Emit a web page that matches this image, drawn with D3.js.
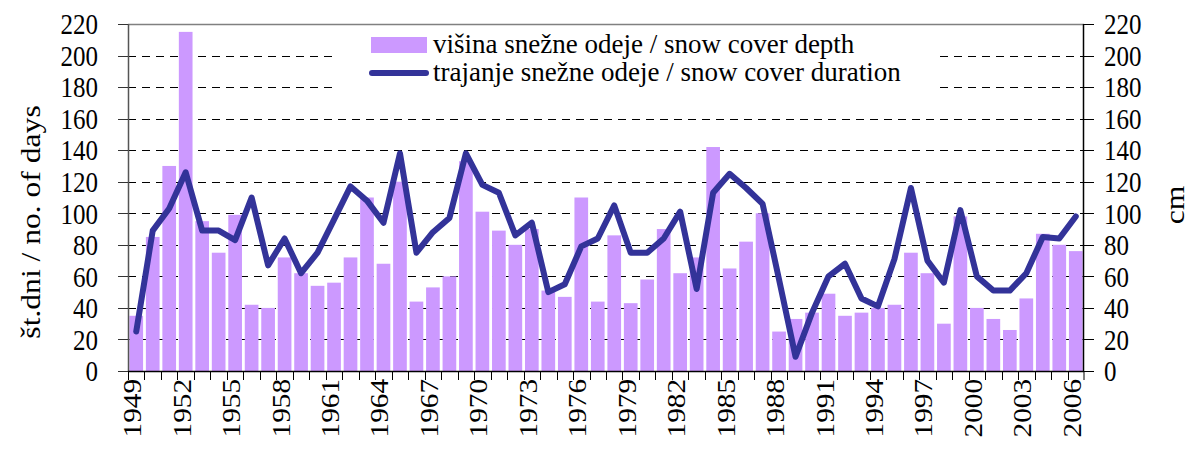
<!DOCTYPE html>
<html>
<head>
<meta charset="utf-8">
<script src="https://cdn.jsdelivr.net/npm/d3@7"></script>
<style>
  html, body { margin: 0; padding: 0; background: #fff; }
  svg { display: block; }
  text { font-family: "Liberation Serif", "Times New Roman", "DejaVu Serif", serif; fill: #000; }
</style>
</head>
<body>
<svg id="chart" width="1192" height="450"></svg>
<script>
// Snow cover, 1949–2006
const years = d3.range(1949, 2007).map(String);

// snow cover depth, cm (bars, right axis)
const depth = [35, 85, 130, 215, 95, 75, 99, 42, 40, 72,
               62, 54, 56, 72, 110, 68, 120, 44, 53, 60,
               133, 101, 89, 80, 90, 51, 47, 110, 44, 86,
               43, 58, 90, 62, 72, 142, 65, 82, 100, 25,
               33, 37, 49, 35, 37, 40, 42, 75, 62, 30,
               98, 40, 33, 26, 46, 87, 80, 76];

// snow cover duration, days (line, left axis)
const duration = [25, 89, 103, 126, 89, 89, 83, 110, 67, 84,
                  62, 75, 96, 117, 108, 94, 138, 75, 88, 97,
                  138, 118, 113, 86, 94, 50, 55, 79, 84, 105,
                  75, 75, 84, 101, 52, 113, 125, 116, 106, 58,
                  9, 37, 60, 68, 46, 41, 71, 116, 70, 56,
                  102, 60, 51, 51, 62, 85, 84, 98];

const yTicks = d3.range(0, 221, 20);
const xLabelYears = years.filter((y, i) => i % 3 === 0);

const legendLabels = ["višina snežne odeje / snow cover depth",
                      "trajanje snežne odeje / snow cover duration"];
const leftTitle = "št.dni / no. of days";
const rightTitle = "cm";

const barColor = "#CC99FF";
const lineColor = "#333399";
const stretch = 1.17; // vertical text stretch

const svg = d3.select("#chart");
const m = { left: 128, right: 1084, top: 24, bottom: 371 };

const x = d3.scaleBand().domain(years).range([m.left, m.right])
  .paddingInner(0.17).paddingOuter(0.085);
const step = x.step();
const yL = d3.scaleLinear().domain([0, 220]).range([m.bottom, m.top]);
const yR = d3.scaleLinear().domain([0, 220]).range([m.bottom, m.top]);
const cx = d => x(d) + x.bandwidth() / 2;
const edge = d => x(d) - step * 0.17 / 2;

// dashed gridlines
svg.append("g").selectAll("line").data(yTicks.filter(t => t > 0 && t < 220)).join("line")
  .attr("x1", m.left).attr("x2", m.right)
  .attr("y1", d => Math.round(yL(d)) + 0.5).attr("y2", d => Math.round(yL(d)) + 0.5)
  .attr("stroke", "#000").attr("stroke-width", 1).attr("stroke-dasharray", "8,6");

// legend background masks gridlines
svg.append("rect").attr("x", 335).attr("y", 30).attr("width", 600).attr("height", 66).attr("fill", "#fff");

// plot border top
svg.append("line").attr("x1", m.left).attr("x2", m.right).attr("y1", m.top + 0.5).attr("y2", m.top + 0.5)
  .attr("stroke", "#808080").attr("stroke-width", 1.5);

// bars
svg.append("g").selectAll("rect").data(years).join("rect")
  .attr("x", d => x(d)).attr("width", x.bandwidth())
  .attr("y", (d, i) => yR(depth[i])).attr("height", (d, i) => yR(0) - yR(depth[i]))
  .attr("fill", barColor);

// duration line
const line = d3.line().x((d, i) => cx(years[i])).y(d => yL(d));
svg.append("path").datum(duration).attr("d", line)
  .attr("fill", "none").attr("stroke", lineColor).attr("stroke-width", 6)
  .attr("stroke-linejoin", "round").attr("stroke-linecap", "round");

// left axis
const gL = svg.append("g");
gL.append("line").attr("x1", m.left + 0.5).attr("x2", m.left + 0.5).attr("y1", m.top).attr("y2", m.bottom)
  .attr("stroke", "#555").attr("stroke-width", 1.5);
gL.selectAll(".t").data(yTicks).join("line")
  .attr("x1", m.left - 10).attr("x2", m.left)
  .attr("y1", d => Math.round(yL(d)) + 0.5).attr("y2", d => Math.round(yL(d)) + 0.5)
  .attr("stroke", "#333").attr("stroke-width", 1);
gL.selectAll("text").data(yTicks).join("text")
  .attr("transform", d => `translate(98,${yL(d)}) scale(1,${stretch})`)
  .attr("dy", "0.35em").attr("text-anchor", "end")
  .style("font-size", "25px").text(d => d);

// right axis
const gR = svg.append("g");
gR.append("line").attr("x1", m.right - 0.5).attr("x2", m.right - 0.5).attr("y1", m.top).attr("y2", m.bottom)
  .attr("stroke", "#000").attr("stroke-width", 1.5);
gR.selectAll(".t").data(yTicks).join("line")
  .attr("x1", m.right).attr("x2", m.right + 10)
  .attr("y1", d => Math.round(yR(d)) + 0.5).attr("y2", d => Math.round(yR(d)) + 0.5)
  .attr("stroke", "#000").attr("stroke-width", 1);
gR.selectAll("text").data(yTicks).join("text")
  .attr("transform", d => `translate(1104,${yR(d)}) scale(1,${stretch})`)
  .attr("dy", "0.35em").attr("text-anchor", "start")
  .style("font-size", "25px").text(d => d);

// bottom axis
const gB = svg.append("g");
gB.append("line").attr("x1", m.left).attr("x2", m.right).attr("y1", m.bottom + 0.5).attr("y2", m.bottom + 0.5)
  .attr("stroke", "#000").attr("stroke-width", 1.5);
gB.selectAll(".t").data(years.concat(["end"])).join("line")
  .attr("x1", d => d === "end" ? m.right : Math.round(edge(d)) + 0.5)
  .attr("x2", d => d === "end" ? m.right : Math.round(edge(d)) + 0.5)
  .attr("y1", m.bottom).attr("y2", m.bottom + 9)
  .attr("stroke", "#000").attr("stroke-width", 1);
gB.selectAll("text").data(xLabelYears).join("text")
  .attr("transform", d => `translate(${cx(d)},379) scale(1,${stretch}) rotate(-90)`)
  .attr("dy", "0.2em").attr("text-anchor", "end")
  .style("font-size", "25px").text(d => d);

// axis titles
svg.append("text")
  .attr("transform", `translate(40,222) scale(1,${stretch}) rotate(-90)`)
  .attr("text-anchor", "middle").style("font-size", "27px").text(leftTitle);
svg.append("text")
  .attr("transform", `translate(1184,205) scale(1,${stretch}) rotate(-90)`)
  .attr("text-anchor", "middle").style("font-size", "27px").text(rightTitle);

// legend
const lg = svg.append("g");
lg.append("rect").attr("x", 371).attr("y", 37).attr("width", 56).attr("height", 16).attr("fill", barColor);
lg.append("line").attr("x1", 372).attr("x2", 426).attr("y1", 73).attr("y2", 73)
  .attr("stroke", lineColor).attr("stroke-width", 6).attr("stroke-linecap", "round");
lg.selectAll("text").data(legendLabels).join("text")
  .attr("x", 433).attr("y", (d, i) => 53 + i * 28)
  .style("font-size", "27px").text(d => d);
</script>
</body>
</html>
